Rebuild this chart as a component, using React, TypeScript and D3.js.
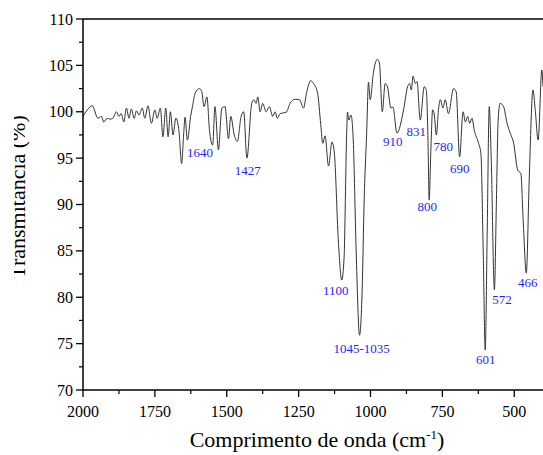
import React from "react";
import * as d3 from "d3";

// Spectrum (wavenumber cm-1, transmittance %)
const wavenumbers = [
  2000, 1985, 1968, 1948, 1936, 1928, 1916, 1907, 1896, 1884, 1875, 1867, 1858, 1849, 1840, 1832, 1822, 1814, 1805, 1794,
  1785, 1774, 1762, 1750, 1742, 1731, 1722, 1712, 1704, 1696, 1687, 1677, 1666, 1657, 1650, 1645, 1637, 1625, 1619, 1610,
  1595, 1587, 1579, 1569, 1560, 1549, 1541, 1529, 1517, 1506, 1494, 1486, 1474, 1463, 1450, 1441, 1430, 1413, 1405, 1398,
  1392, 1384, 1375, 1363, 1352, 1340, 1332, 1324, 1314, 1293, 1280, 1262, 1247, 1233, 1222, 1208, 1198, 1184, 1173, 1166,
  1158, 1146, 1134, 1126, 1112, 1100, 1092, 1083, 1080, 1075, 1068, 1060, 1050, 1038, 1029, 1022, 1013, 1007, 1001, 990,
  976, 969, 959, 949, 941, 929, 922, 908, 885, 871, 864, 858, 852, 844, 838, 827, 813, 806, 800, 796,
  790, 784, 778, 771, 763, 757, 748, 740, 729, 711, 702, 690, 678, 670, 662, 655, 647, 639, 624, 616,
  608, 601, 594, 587, 580, 569, 562, 556, 549, 537, 525, 514, 502, 488, 477, 469, 458, 448, 435, 427,
  417, 404, 400,
];
const transmittance = [
  99.5, 100.2, 100.65, 99.3, 99.5, 98.9, 99.3, 99.2, 99.3, 100.0, 99.5, 99.8, 98.9, 100.4, 99.3, 100.3, 99.3, 100.1, 99.65, 100.4,
  99.3, 100.65, 98.75, 100.2, 99.3, 100.4, 97.3, 100.4, 97.3, 100.0, 97.5, 99.3, 97.85, 94.4, 97.5, 99.4, 96.95, 99.65, 100.6, 102.0,
  102.5, 102.2, 100.55, 101.6, 98.0, 96.4, 100.55, 95.9, 100.4, 100.55, 97.1, 99.5, 97.5, 96.8, 99.5, 100.0, 95.0, 100.9, 101.3, 100.9,
  101.6, 100.0, 100.9, 100.0, 100.55, 99.5, 100.0, 99.3, 99.8, 99.95, 100.9, 101.35, 101.3, 100.4, 102.1, 103.35, 103.05, 102.0, 98.6, 96.6,
  97.4, 94.15, 96.75, 95.65, 86.2, 81.85, 84.2, 97.5, 99.97, 99.1, 99.65, 96.95, 85.1, 75.9, 80.8, 90.5, 98.0, 103.2, 101.3, 104.2,
  105.65, 105.25, 100.0, 103.05, 102.7, 100.4, 100.5, 97.7, 100.2, 102.7, 103.05, 102.35, 103.85, 103.05, 103.25, 99.1, 102.7, 102.35, 96.95, 90.5,
  95.9, 100.2, 99.65, 97.5, 100.4, 101.3, 100.4, 101.3, 99.8, 102.5, 102.15, 95.15, 100.0, 98.9, 99.5, 98.75, 99.3, 98.0, 96.6, 95.5,
  85.1, 74.3, 87.25, 100.55, 94.8, 80.8, 90.5, 99.1, 100.9, 100.55, 98.75, 97.7, 96.6, 93.7, 93.35, 88.3, 82.6, 92.65, 102.35, 100.2,
  96.95, 104.5, 102.7,
];

// Peak annotations
const peakLabels = ["1640", "1427", "910", "831", "780", "690", "800", "1100", "1045-1035", "601", "572", "466"];
const peakLabelWn = [1593, 1427, 923, 841, 747, 690, 803, 1121, 1031, 599, 543, 453];
const peakLabelT = [95.1, 93.2, 96.3, 97.4, 95.8, 93.4, 89.3, 80.25, 74.0, 72.8, 79.3, 81.1];

const xTicks = [2000, 1750, 1500, 1250, 1000, 750, 500];
const xMinorTicks = [1875, 1625, 1375, 1125, 875, 625];
const yTicks = [70, 75, 80, 85, 90, 95, 100, 105, 110];
const yMinorTicks = [72.5, 77.5, 82.5, 87.5, 92.5, 97.5, 102.5, 107.5];

const W = 543;
const H = 455;
const L = 83;
const R = 543;
const T = 19;
const B = 390;
const FONT = "'Liberation Serif', 'Times New Roman', serif";

export default function App() {
  const x = d3.scaleLinear().domain([2000, 400]).range([L, R]);
  const y = d3.scaleLinear().domain([70, 110]).range([B, T]);
  const data = wavenumbers.map((w, i) => [w, transmittance[i]] as [number, number]);
  const line = d3
    .line<[number, number]>()
    .x((d) => x(d[0]))
    .y((d) => y(d[1]))
    .curve(d3.curveMonotoneX);

  return (
    <svg
      width={W}
      height={H}
      style={{ position: "absolute", left: 0, top: 0, background: "#fff" }}
      fontFamily={FONT}
    >
      <defs>
        <clipPath id="plot">
          <rect x={L} y={T} width={R - L} height={B - T} />
        </clipPath>
        <clipPath id="ytitle">
          <rect x={14} y={0} width={60} height={H} />
        </clipPath>
      </defs>
      <path d={line(data) || ""} fill="none" stroke="#333" strokeWidth={1} clipPath="url(#plot)" />

      {/* frame */}
      <line x1={L} x2={R} y1={T} y2={T} stroke="#000" strokeWidth={1.5} />
      <line x1={L} x2={L} y1={T} y2={B} stroke="#000" strokeWidth={1.5} />
      <line x1={L} x2={R} y1={B} y2={B} stroke="#000" strokeWidth={1.5} />

      {/* y ticks */}
      {yTicks.map((t) => (
        <g key={"y" + t}>
          <line x1={L - 7} x2={L} y1={y(t)} y2={y(t)} stroke="#000" strokeWidth={1.3} />
          <text x={L - 10} y={y(t)} dy="0.35em" textAnchor="end" fontSize={16} fill="#000">
            {t}
          </text>
        </g>
      ))}
      {yMinorTicks.map((t) => (
        <line key={"ym" + t} x1={L - 4} x2={L} y1={y(t)} y2={y(t)} stroke="#000" strokeWidth={1.2} />
      ))}

      {/* x ticks */}
      {xTicks.map((t) => (
        <g key={"x" + t}>
          <line x1={x(t)} x2={x(t)} y1={B} y2={B + 7} stroke="#000" strokeWidth={1.3} />
          <text x={x(t)} y={B + 27} textAnchor="middle" fontSize={16} fill="#000">
            {t}
          </text>
        </g>
      ))}
      {xMinorTicks.map((t) => (
        <line key={"xm" + t} x1={x(t)} x2={x(t)} y1={B} y2={B + 4} stroke="#000" strokeWidth={1.2} />
      ))}

      {/* annotations */}
      {peakLabels.map((lab, i) => (
        <text
          key={lab}
          x={x(peakLabelWn[i])}
          y={y(peakLabelT[i])}
          textAnchor="middle"
          fontSize={13}
          fill="#1f1fff"
        >
          {lab}
        </text>
      ))}

      {/* axis titles */}
      <text x={(L + R) / 2 + 4} y={447} textAnchor="middle" fontSize={22} fill="#000">
        Comprimento de onda (cm
        <tspan dy={-8} fontSize={13}>-1</tspan>
        <tspan dy={8}>)</tspan>
      </text>
      <g clipPath="url(#ytitle)">
        <text
          transform={`translate(25, 197) rotate(-90)`}
          textAnchor="middle"
          fontSize={22}
          fill="#000"
        >
          Transmitância (%)
        </text>
      </g>
    </svg>
  );
}
